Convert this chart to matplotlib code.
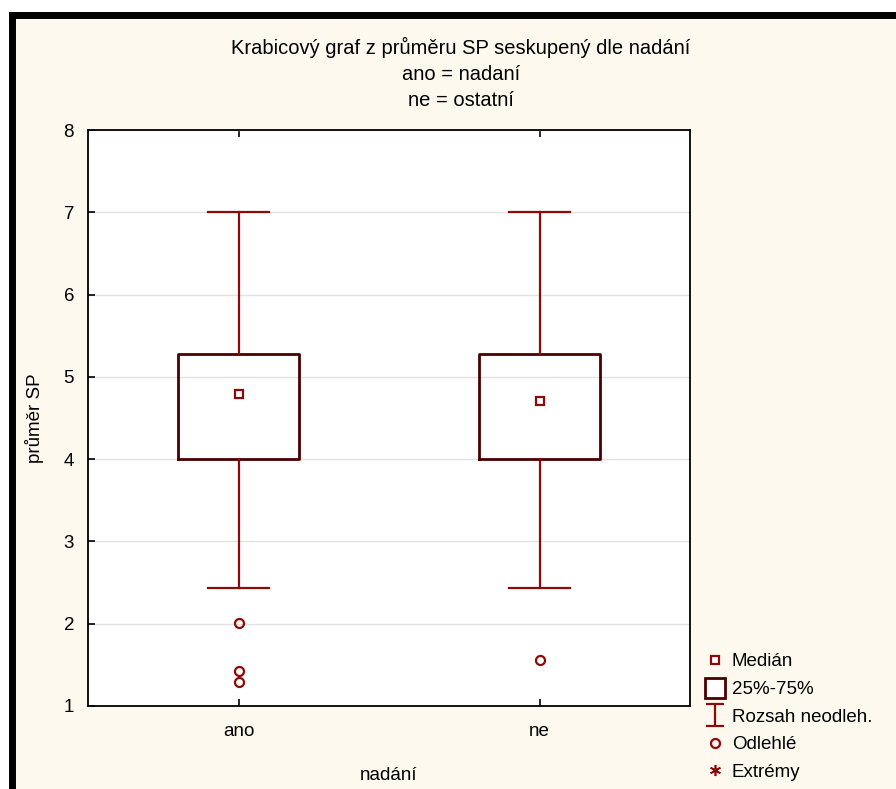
import numpy as np
import matplotlib
matplotlib.use("Agg")
import matplotlib.pyplot as plt
from matplotlib.lines import Line2D
from matplotlib.patches import Rectangle
from matplotlib.path import Path

plt.rcParams['font.family'] = ['Liberation Sans', 'DejaVu Sans']

# data
categories = ["ano", "ne"]
medians = [4.79, 4.71]
q1 = [4.0, 4.0]
q3 = [5.28, 5.28]
whisker_lo = [2.43, 2.43]
whisker_hi = [7.0, 7.0]
outliers = [[2.01, 1.43, 1.29], [1.56]]

dark_red = "#8c0a0a"
box_col = "#4a0000"
cream = "#fdf9ef"

fig = plt.figure(figsize=(8.96, 7.89), dpi=100, facecolor="white")

# outer frame (cream panel with thick black top/left border)
frame = Rectangle((11.5 / 896, -0.05), 1.1, 1 - 15 / 789 + 0.05,
                  transform=fig.transFigure, facecolor=cream,
                  edgecolor="black", linewidth=5, zorder=-10)
fig.patches.append(frame)

ax = fig.add_axes([88 / 896, 1 - 706 / 789, (690 - 88) / 896, (706 - 130) / 789])
ax.set_facecolor("white")

stats = []
for i in range(len(categories)):
    stats.append(dict(med=medians[i], q1=q1[i], q3=q3[i],
                      whislo=whisker_lo[i], whishi=whisker_hi[i],
                      fliers=outliers[i]))

pos = np.arange(1, len(categories) + 1)
ax.bxp(stats, positions=pos, widths=0.4, capwidths=0.2,
       boxprops=dict(color=box_col, linewidth=2.0),
       whiskerprops=dict(color=dark_red, linewidth=1.6),
       capprops=dict(color=dark_red, linewidth=1.6),
       medianprops=dict(linestyle="none"),
       flierprops=dict(marker="o", markerfacecolor="none",
                       markeredgecolor=dark_red, markersize=6.5,
                       markeredgewidth=1.6),
       zorder=3)
ax.plot(pos, medians, linestyle="none", marker="s", markersize=6,
        markerfacecolor="white", markeredgecolor=dark_red,
        markeredgewidth=1.6, zorder=4)

ax.set_xlim(0.5, 2.5)
ax.set_ylim(1, 8)
ax.set_xticks(pos)
ax.set_xticklabels(categories)
ax.set_yticks(range(1, 9))
ax.yaxis.grid(True, color="#e2e2e2", linewidth=1)
ax.set_axisbelow(True)
for s in ax.spines.values():
    s.set_linewidth(1.3)
ax.tick_params(direction="in", top=True, length=5, width=1.2,
               labelsize=13.5, pad=10)
ax.tick_params(axis="x", pad=12)
ax.set_ylabel("průměr SP", fontsize=13.5, labelpad=14)
ax.set_xlabel("nadání", fontsize=13.5, labelpad=20)

title_x = 461 / 896
fig.text(title_x, 1 - 47 / 789, "Krabicový graf z průměru SP seskupený dle nadání",
         ha="center", va="center", fontsize=14.5)
fig.text(title_x, 1 - 74 / 789, "ano = nadaní", ha="center", va="center", fontsize=14.5)
fig.text(title_x, 1 - 101 / 789, "ne = ostatní", ha="center", va="center", fontsize=14.5)

# legend
i_marker = Path([(-0.8, 1), (0.8, 1), (0, 1), (0, -1), (-0.8, -1), (0.8, -1)],
                [Path.MOVETO, Path.LINETO, Path.MOVETO, Path.LINETO,
                 Path.MOVETO, Path.LINETO])
handles = [
    Line2D([], [], linestyle="none", marker="s", markersize=6,
           markerfacecolor="white", markeredgecolor=dark_red, markeredgewidth=1.6),
    Line2D([], [], linestyle="none", marker="s", markersize=14,
           markerfacecolor="white", markeredgecolor=box_col, markeredgewidth=2),
    Line2D([], [], linestyle="none", marker=i_marker, markersize=16,
           markeredgecolor=dark_red, markeredgewidth=1.6),
    Line2D([], [], linestyle="none", marker="o", markersize=6.5,
           markerfacecolor="none", markeredgecolor=dark_red, markeredgewidth=1.6),
    Line2D([], [], linestyle="none", marker=(6, 2, 0), markersize=8,
           markeredgecolor=dark_red, markeredgewidth=1.2),
]
labels = ["Medián", "25%-75%", "Rozsah neodleh.", "Odlehlé", "Extrémy"]
fig.legend(handles, labels, loc="upper left",
           bbox_to_anchor=(696 / 896, 1 - 644 / 789), frameon=False,
           fontsize=13.5, handlelength=1.0, handletextpad=0.4,
           labelspacing=0.56, borderpad=0)

fig.savefig("out.png", dpi=100, facecolor=fig.get_facecolor())
